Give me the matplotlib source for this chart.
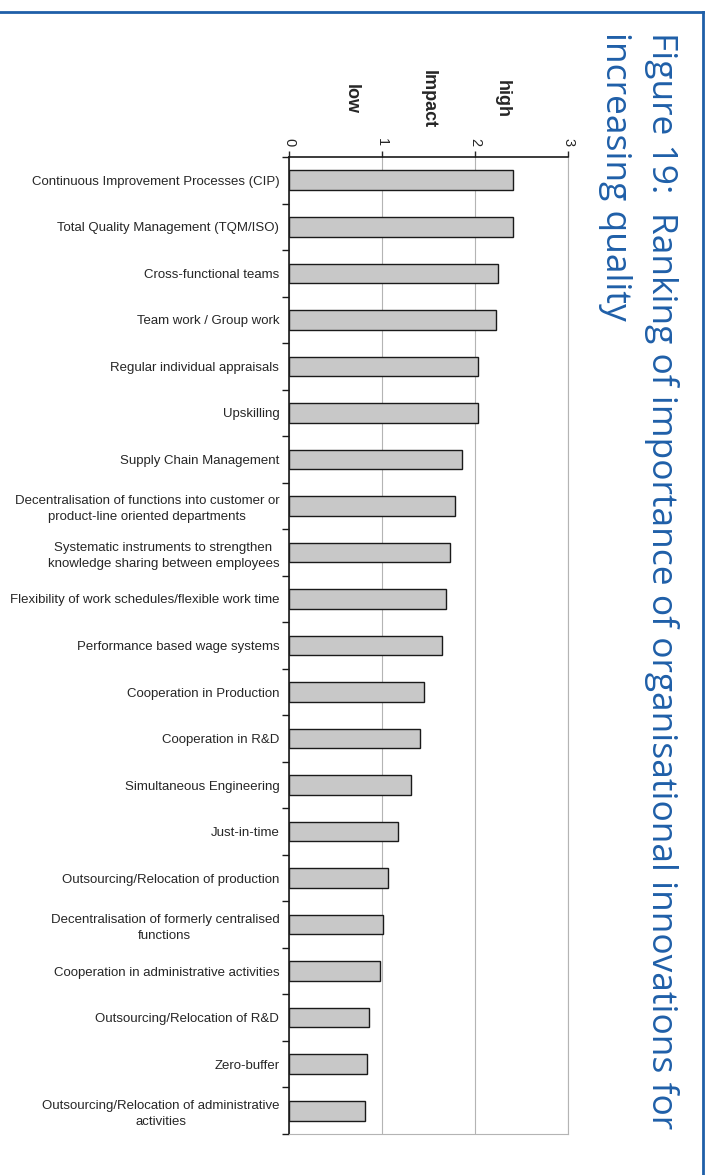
import numpy as np
import matplotlib as mpl
mpl.use("Agg")
import matplotlib.pyplot as plt
from matplotlib.lines import Line2D

mpl.rcParams.update({
    "font.family": ["Liberation Sans", "DejaVu Sans"],
    "font.size": 9.5,
})

BLUE = "#1f5fa8"
INK = "#262626"
W, H = 711, 1175

categories = [
    "Continuous Improvement Processes (CIP)",
    "Total Quality Management (TQM/ISO)",
    "Cross-functional teams",
    "Team work / Group work",
    "Regular individual appraisals",
    "Upskilling",
    "Supply Chain Management",
    "Decentralisation of functions into customer or\nproduct-line oriented departments",
    "Systematic instruments to strengthen\nknowledge sharing between employees",
    "Flexibility of work schedules/flexible work time",
    "Performance based wage systems",
    "Cooperation in Production",
    "Cooperation in R&D",
    "Simultaneous Engineering",
    "Just-in-time",
    "Outsourcing/Relocation of production",
    "Decentralisation of formerly centralised\nfunctions",
    "Cooperation in administrative activities",
    "Outsourcing/Relocation of R&D",
    "Zero-buffer",
    "Outsourcing/Relocation of administrative\nactivities",
]
impact = [2.41, 2.41, 2.25, 2.23, 2.03, 2.03, 1.86, 1.78, 1.73, 1.69, 1.65,
          1.45, 1.41, 1.31, 1.17, 1.06, 1.01, 0.98, 0.86, 0.84, 0.82]
xticks = [0, 1, 2, 3]
title_lines = ["Figure 19:  Ranking of importance of organisational innovations for",
               "increasing quality"]


def px(x, y):
    """pixel position (from top-left) -> figure fraction"""
    return x / W, 1 - y / H


fig = plt.figure(figsize=(W / 100, H / 100), dpi=100)
x0, x1, ytop, ybot = 289, 568, 157, 1134
ax = fig.add_axes([x0 / W, 1 - ybot / H, (x1 - x0) / W, (ybot - ytop) / H])

pos = np.arange(len(categories))
ax.barh(pos, impact, height=0.42, color="#c8c8c8", edgecolor="#1a1a1a",
        linewidth=1.0, zorder=3)

ax.set_xlim(0, 3)
ax.set_ylim(len(categories) - 0.5, -0.5)

ax.set_xticks(xticks)
ax.set_xticklabels([str(t) for t in xticks], rotation=-90)
ax.xaxis.tick_top()
ax.tick_params(axis="x", direction="out", length=4, width=1.0, pad=4,
               labelsize=10.5, colors=INK)
ax.xaxis.grid(True, color="#b4b4b4", linewidth=0.8, zorder=0)

ax.set_yticks(pos)
ax.set_yticklabels(categories, ha="right", multialignment="center",
                   linespacing=1.45)
ax.set_yticks(np.arange(-0.5, len(categories)), minor=True)
ax.tick_params(axis="y", which="major", length=0, pad=7, labelsize=9.5,
               colors=INK)
ax.tick_params(axis="y", which="minor", direction="out", length=5, width=1.0,
               color="#1a1a1a")

for side in ("top", "left"):
    ax.spines[side].set_color("#1a1a1a")
    ax.spines[side].set_linewidth(1.2)
for side in ("right", "bottom"):
    ax.spines[side].set_color("#b4b4b4")
    ax.spines[side].set_linewidth(0.8)

# value axis captions, rotated like the tick labels
for label, xp in (("high", 502), ("Impact", 428), ("low", 351)):
    fig.text(*px(xp, 99), label, rotation=-90, ha="center", va="center",
             fontsize=13, fontweight="bold", color=INK)

# title running down the right-hand side
title_font = dict(rotation=-90, ha="center", va="top", fontsize=25.5,
                  color=BLUE, family=["Open Sans", "DejaVu Sans"])
fig.text(*px(661, 32), title_lines[0], **title_font)
fig.text(*px(615, 32), title_lines[1], **title_font)

# frame
fig.add_artist(Line2D([0, 703 / W], [1 - 12 / H] * 2, color=BLUE, lw=2,
                      transform=fig.transFigure))
fig.add_artist(Line2D([703 / W] * 2, [1 - 12 / H, 0], color=BLUE, lw=2,
                      transform=fig.transFigure))

fig.savefig("out.png", dpi=100)
